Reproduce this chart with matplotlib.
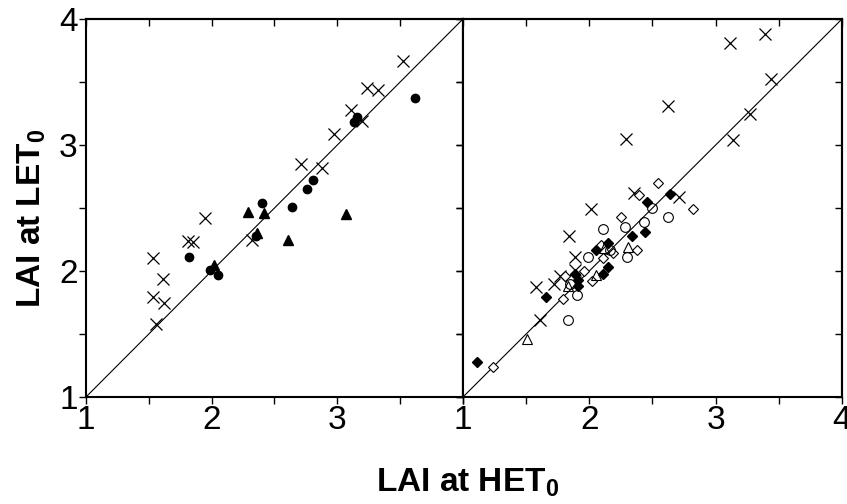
import matplotlib
matplotlib.use("Agg")
import matplotlib.pyplot as plt
import numpy as np

plt.rcParams['font.family'] = ['Liberation Sans', 'DejaVu Sans']
plt.rcParams['mathtext.default'] = 'regular'

# left panel
l_cross_x = [3.52, 3.24, 3.32, 3.11, 3.20, 2.97, 2.71, 2.88, 1.95, 1.81, 1.85, 2.32, 1.53, 1.61, 1.53, 1.62, 1.56]
l_cross_y = [3.67, 3.45, 3.44, 3.28, 3.19, 3.09, 2.85, 2.82, 2.42, 2.24, 2.23, 2.25, 2.10, 1.94, 1.79, 1.75, 1.58]
l_dot_x = [3.62, 3.16, 3.13, 2.81, 2.76, 2.40, 2.64, 2.35, 1.82, 1.99, 2.05]
l_dot_y = [3.37, 3.22, 3.18, 2.72, 2.65, 2.54, 2.51, 2.28, 2.11, 2.01, 1.97]
l_tri_x = [2.29, 2.42, 3.07, 2.36, 2.61, 2.02]
l_tri_y = [2.47, 2.46, 2.45, 2.30, 2.25, 2.05]

# right panel
r_cross_x = [3.11, 3.39, 3.44, 3.27, 3.14, 2.62, 2.29, 2.35, 2.71, 2.01, 1.84, 1.89, 1.89, 1.77, 1.72, 1.58, 1.61]
r_cross_y = [3.81, 3.88, 3.52, 3.25, 3.04, 3.31, 3.05, 2.62, 2.59, 2.49, 2.28, 2.11, 2.01, 1.96, 1.90, 1.87, 1.61]
r_fdia_x = [2.64, 2.46, 2.44, 2.34, 2.15, 2.05, 2.15, 2.11, 1.89, 1.91, 1.91, 1.66, 1.11]
r_fdia_y = [2.61, 2.55, 2.31, 2.28, 2.22, 2.17, 2.03, 1.98, 1.98, 1.93, 1.88, 1.79, 1.28]
r_odia_x = [2.54, 2.39, 2.82, 2.25, 2.09, 2.38, 2.19, 2.11, 1.96, 2.02, 1.81, 1.79, 1.24]
r_odia_y = [2.70, 2.60, 2.49, 2.43, 2.21, 2.17, 2.14, 2.10, 2.00, 1.92, 1.96, 1.78, 1.24]
r_circ_x = [2.50, 2.62, 2.43, 2.28, 2.11, 2.16, 1.99, 2.30, 1.85, 1.90, 1.83]
r_circ_y = [2.50, 2.43, 2.39, 2.35, 2.33, 2.17, 2.11, 2.11, 1.90, 1.81, 1.61]
r_otri_x = [2.31, 2.12, 2.05, 1.83, 1.51]
r_otri_y = [2.19, 2.18, 1.97, 1.88, 1.46]

ticks = [1, 2, 3, 4]
minor = [1.5, 2.5, 3.5]

fig = plt.figure(figsize=(8.47, 5.04), dpi=100)
ax1 = fig.add_axes([0.1015, 0.2123, 0.4451, 0.75])
ax2 = fig.add_axes([0.5466, 0.2123, 0.4475, 0.75])

for ax in (ax1, ax2):
    ax.plot([1, 4], [1, 4], color='black', lw=0.8)
    ax.set_xlim(1, 4)
    ax.set_ylim(1, 4)
    ax.set_xticks(ticks)
    ax.set_yticks(ticks)
    ax.set_xticks(minor, minor=True)
    ax.set_yticks(minor, minor=True)
    # outward ticks bottom/left
    ax.tick_params(which='both', direction='out', length=5, width=1, labelsize=24, pad=1)
    for s in ax.spines.values():
        s.set_linewidth(1.5)
    # inward ticks top/right
    top = ax.secondary_xaxis('top')
    top.set_xticks(ticks)
    top.set_xticks(minor, minor=True)
    top.tick_params(which='both', direction='in', length=5, width=1, labeltop=False)
    top.spines['top'].set_linewidth(1.5)
    right = ax.secondary_yaxis('right')
    right.set_yticks(ticks)
    right.set_yticks(minor, minor=True)
    right.tick_params(which='both', direction='in', length=5, width=1, labelright=False)
    right.spines['right'].set_linewidth(1.5)

ax1.plot(l_cross_x, l_cross_y, 'x', color='black', ms=8, mew=0.9)
ax1.plot(l_dot_x, l_dot_y, 'o', color='black', ms=6)
ax1.plot(l_tri_x, l_tri_y, '^', color='black', ms=7)
ax1.set_xticklabels(['1', '2', '3', ''])

ax2.plot(r_cross_x, r_cross_y, 'x', color='black', ms=8, mew=0.9)
ax2.plot(r_odia_x, r_odia_y, 'D', mfc='white', mec='black', ms=5.5, mew=0.8)
ax2.plot(r_circ_x, r_circ_y, 'o', mfc='none', mec='black', ms=7, mew=0.8)
ax2.plot(r_otri_x, r_otri_y, '^', mfc='none', mec='black', ms=7, mew=0.8)
ax2.plot(r_fdia_x, r_fdia_y, 'D', color='black', ms=5.5)
ax2.set_yticklabels([])

fig.text(0.038, 0.567, 'LAI at LET$_0$', fontsize=24, fontweight='bold', rotation=90, ha='center', va='center')
fig.text(0.552, 0.01, 'LAI at HET$_0$', fontsize=24, fontweight='bold', ha='center', va='bottom')

fig.savefig('out.png', dpi=100)
